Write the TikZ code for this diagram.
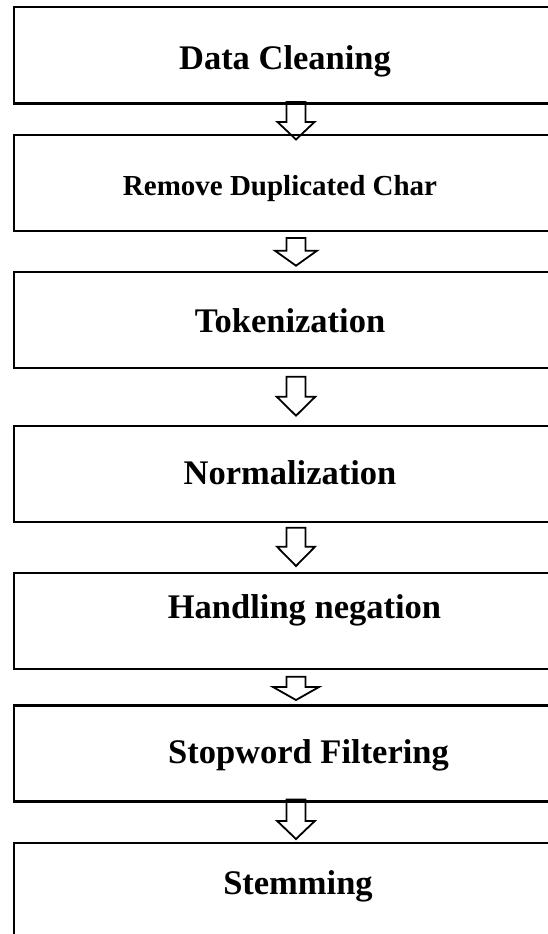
\documentclass[tikz,border=0pt]{standalone}
\usepackage{fontspec}
\setmainfont{Liberation Serif}
\usetikzlibrary{calc,backgrounds}

\tikzset{
  stagebox/.style={draw=black, line width=2.4pt, rectangle,
    inner sep=0pt, outer sep=0pt, minimum width=564pt, minimum height=96pt,
    anchor=north west},
  stagetext/.style={inner sep=0pt, anchor=base, text=black,
    font=\bfseries\fontsize{34.5}{40}\selectfont},
  smalltext/.style={stagetext, font=\bfseries\fontsize{29}{34}\selectfont},
  hollowarrow/.style={draw=black, fill=white, line width=1.8pt, line join=miter}
}

% Hollow block arrow from the bottom of #1 to the top of #2, drawn behind the boxes.
% #3: shaft start below the source, #4: head base above the target,
% #5: tip above the target, #6: half width of the head (all in pt).
\newcommand{\blockdown}[6]{%
  \begin{pgfonlayer}{background}
  \draw[hollowarrow] let \p1=(#1.south), \p2=(#2.north) in
    (\x1-9.5pt,\y1-#3pt) -- (\x1+9.5pt,\y1-#3pt) -- (\x1+9.5pt,\y2+#4pt)
    -- (\x1+#6pt,\y2+#4pt) -- (\x1,\y2+#5pt) -- (\x1-#6pt,\y2+#4pt)
    -- (\x1-9.5pt,\y2+#4pt) -- cycle;
  \end{pgfonlayer}}

\begin{document}
\begin{tikzpicture}[x=1pt,y=1pt]
\useasboundingbox (0,0) rectangle (548,-934);
\clip (0,0) rectangle (548,-934);
\begin{pgfonlayer}{background}
\fill[white] (0,0) rectangle (548,-934);
\end{pgfonlayer}

% processing stages
\node[stagebox] (b1) at (14,-7.3) {};
\node[stagebox] (b2) at (14,-135) {};
\node[stagebox] (b3) at (14,-272) {};
\node[stagebox] (b4) at (14,-426) {};
\node[stagebox] (b5) at (14,-572.7) {};
\node[stagebox] (b6) at (14,-705.3) {};
\node[stagebox, minimum height=130pt] (b7) at (14,-842.7) {};

% arrows between the stages
\blockdown{b1}{b2}{-1.3}{13}{-4.5}{18.5}
\blockdown{b2}{b3}{7}{21.3}{6.3}{21}
\blockdown{b3}{b4}{8.7}{29.3}{10.3}{19.3}
\blockdown{b4}{b5}{5.7}{26}{6.7}{19}
\blockdown{b5}{b6}{8}{18.3}{5.3}{23}
\blockdown{b6}{b7}{-1.7}{21.7}{3.7}{18.8}

% stage labels
\node[stagetext] (t1) at (285,-69.3) {Data Cleaning};
\node[smalltext] (t2) at (280,-195) {Remove Duplicated Char};
\node[stagetext] (t3) at (290,-332.7) {Tokenization};
\node[stagetext] (t4) at (290,-484) {Normalization};
\node[stagetext] (t5) at (304.5,-618.5) {Handling negation};
\node[stagetext] (t6) at (308.5,-763) {Stopword Filtering};
\node[stagetext] (t7) at (298,-894.5) {Stemming};
\end{tikzpicture}
\end{document}
